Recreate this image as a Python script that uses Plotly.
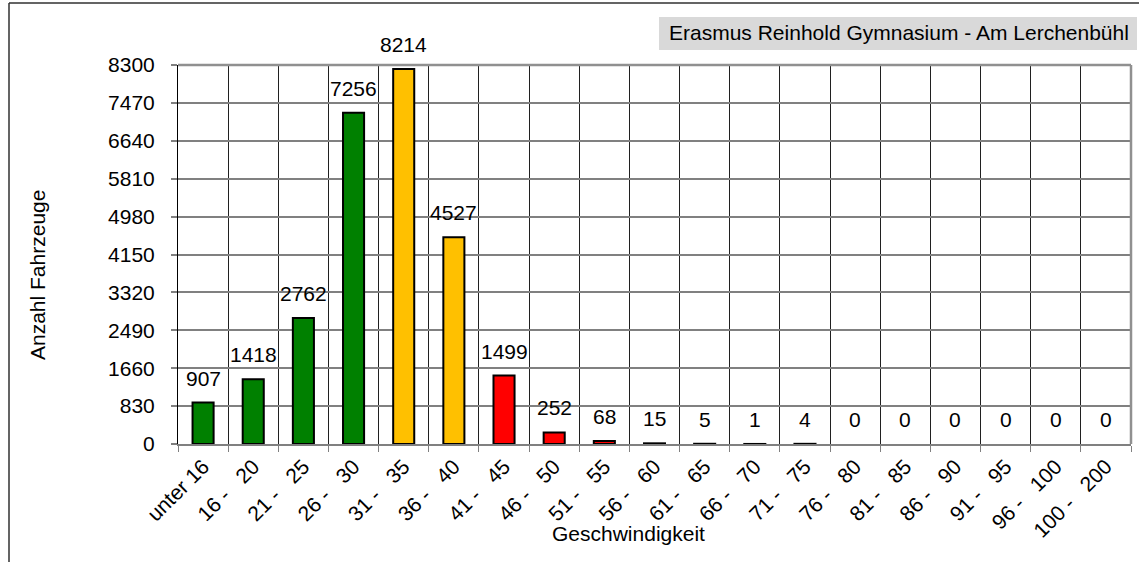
import plotly.graph_objects as go

categories = ["unter 16", "16 -   20", "21 -   25", "26 -   30", "31 -   35", "36 -   40",
              "41 -   45", "46 -   50", "51 -   55", "56 -   60", "61 -   65", "66 -   70",
              "71 -   75", "76 -   80", "81 -   85", "86 -   90", "91 -   95", "96 -   100",
              "100 -   200"]
values = [907, 1418, 2762, 7256, 8214, 4527, 1499, 252, 68, 15, 5, 1, 4, 0, 0, 0, 0, 0, 0]
zones = ["ok"] * 4 + ["warn"] * 2 + ["bad"] * 13
y_ticks = [0, 830, 1660, 2490, 3320, 4150, 4980, 5810, 6640, 7470, 8300]

zone_colors = {"ok": "#008000", "warn": "#FFC000", "bad": "#FF0000"}
FONT = "Liberation Sans, Arial, sans-serif"
FS = 21

W, H = 1139, 562
L, R, T, B = 178, 8, 65, 118
pw, ph = W - L - R, H - T - B

def px_x(p):
    return (p - L) / pw

def px_y(p):
    return (H - B - p) / ph

fig = go.Figure()
fig.add_trace(go.Bar(
    x=categories, y=values, width=0.42,
    marker=dict(color=[zone_colors[z] for z in zones],
                line=dict(color="black", width=[2 if v > 0 else 0 for v in values])),
    hoverinfo="x+y",
))

for c, v in zip(categories, values):
    fig.add_annotation(x=c, y=v, text=str(v), showarrow=False, yanchor="bottom",
                       yshift=11, font=dict(size=FS, color="black", family=FONT))

fig.update_xaxes(
    type="category", tickson="boundaries", showgrid=True, gridcolor="#202020", gridwidth=1,
    showline=True, linecolor="#808080", linewidth=2, ticks="outside", ticklen=6,
    tickcolor="#808080", tickwidth=1, tickangle=-45,
    tickfont=dict(size=FS, color="black", family=FONT), automargin=False,
)
fig.update_yaxes(
    range=[0, 8300], tickvals=y_ticks, ticktext=[str(t) for t in y_ticks],
    showgrid=True, gridcolor="#808080", gridwidth=1.5,
    showline=True, linecolor="black", linewidth=1, ticks="outside", ticklen=6,
    tickcolor="#808080", tickwidth=1.5, zeroline=False, ticklabelstandoff=12,
    tickfont=dict(size=FS, color="black", family=FONT), automargin=False,
)

shapes = [
    dict(type="line", xref="paper", yref="paper", x0=0, x1=1, y0=1, y1=1,
         line=dict(color="#909090", width=2.5)),
    dict(type="line", xref="paper", yref="paper", x0=1, x1=1, y0=0, y1=1,
         line=dict(color="#909090", width=2.5)),
    dict(type="line", xref="paper", yref="paper", x0=px_x(9), x1=px_x(9), y0=px_y(3), y1=px_y(600),
         line=dict(color="#303030", width=1.5)),
    dict(type="line", xref="paper", yref="paper", x0=px_x(9), x1=px_x(1200), y0=px_y(3), y1=px_y(3),
         line=dict(color="#303030", width=1.5)),
    dict(type="rect", xref="paper", yref="paper", x0=px_x(659), x1=px_x(1137), y0=px_y(50), y1=px_y(17),
         fillcolor="#D9D9D9", line=dict(width=0), layer="below"),
]

fig.add_annotation(xref="paper", yref="paper", x=px_x(667), y=px_y(33), xanchor="left", yanchor="middle",
                   text="Erasmus Reinhold Gymnasium - Am Lerchenbühl", showarrow=False,
                   font=dict(size=FS, color="black", family=FONT))
fig.add_annotation(xref="paper", yref="paper", x=px_x(628), y=px_y(533), xanchor="center", yanchor="middle",
                   text="Geschwindigkeit", showarrow=False,
                   font=dict(size=FS, color="black", family=FONT))
fig.add_annotation(xref="paper", yref="paper", x=px_x(37), y=px_y(275), xanchor="center", yanchor="middle",
                   text="Anzahl Fahrzeuge", textangle=-90, showarrow=False,
                   font=dict(size=FS, color="black", family=FONT))

fig.update_layout(
    width=W, height=H, margin=dict(l=L, r=R, t=T, b=B, autoexpand=False),
    paper_bgcolor="white", plot_bgcolor="white", showlegend=False,
    shapes=shapes, font=dict(family=FONT, size=FS, color="black"),
)

fig.write_html("out.html", config={"displayModeBar": False},
               post_script="document.body.style.margin='0';document.body.style.overflow='hidden';")
